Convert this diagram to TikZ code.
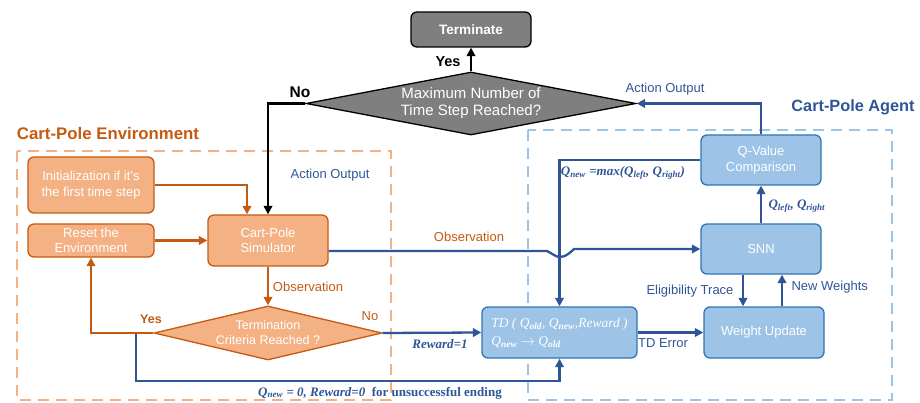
\documentclass[tikz,border=0pt]{standalone}
\usepackage{fontspec}
\setmainfont{Liberation Sans}
\newfontfamily\lserif{Liberation Serif}
\usetikzlibrary{shapes.geometric,arrows.meta,calc}
\definecolor{orgline}{HTML}{C55A11}
\definecolor{orgfill}{HTML}{F4B183}
\definecolor{dblue}{HTML}{2F5597}
\definecolor{bfill}{HTML}{9DC3E6}
\definecolor{bline}{HTML}{2E75B6}
\definecolor{gfill}{HTML}{7F7F7F}
\newcommand\fsz[2]{\fontsize{#1}{#2}\selectfont}
\begin{document}
\begin{tikzpicture}[x=1pt,y=-1pt,
  obox/.style={draw=orgline, fill=orgfill, line width=1.3pt, rounded corners=6pt, text=white, align=center, inner sep=0pt, font=\fsz{13}{15.5}},
  bbox/.style={draw=bline, fill=bfill, line width=1.3pt, rounded corners=6pt, text=white, align=center, inner sep=0pt, font=\fsz{13}{15.5}},
  tip/.style={-{Triangle[length=8.5pt,width=8.5pt]}},
  oarr/.style={draw=orgline, line width=2.3pt, tip},
  barr/.style={draw=dblue, line width=2.3pt, tip},
  karr/.style={draw=black, line width=2.6pt, tip},
  blbl/.style={text=dblue, font=\fsz{13}{15}},
  olbl/.style={text=orgline, font=\fsz{13}{15}},
  mlbl/.style={text=dblue, font=\lserif\bfseries\itshape\fsz{13}{15}},
  envframe/.style={draw=orgfill, line width=1.5pt, dash pattern=on 11pt off 7pt},
  agtframe/.style={draw=bfill, line width=1.5pt, dash pattern=on 11pt off 7pt},
]
\useasboundingbox (0,0) rectangle (920,403);

% frames
\draw[envframe] (17,151) rectangle (391,400);
\draw[agtframe] (528,130) rectangle (892,400);
\node[text=orgline, font=\bfseries\fsz{16.8}{18}] (envt) at (108,133) {Cart-Pole Environment};
\node[text=dblue, font=\bfseries\fsz{16.3}{18}] (agtt) at (853,107) {Cart-Pole Agent};

% top nodes
\node[draw=black, fill=gfill, line width=1.3pt, rounded corners=6pt, text=white, font=\bfseries\fsz{13.6}{15}, minimum width=120pt, minimum height=35pt, inner sep=0pt] (term) at (471,29.5) {Terminate};
\node[draw=black, fill=gfill, line width=1.3pt, diamond, aspect=5.2, minimum width=330pt, minimum height=63pt, inner sep=0pt, align=center, text=white, font=\fsz{15}{17}] (maxd) at (471,103.5) {Maximum Number of\\Time Step Reached?};

% environment nodes
\node[obox, minimum width=126pt, minimum height=56pt] (init) at (91,185) {Initialization if it's\\the first time step};
\node[obox, minimum width=126pt, minimum height=33pt] (reset) at (91,240.5) {Reset the\\Environment};
\node[obox, minimum width=120pt, minimum height=51pt] (sim) at (268,240.5) {Cart-Pole\\Simulator};
\node[draw=orgline, fill=orgfill, line width=1.3pt, diamond, aspect=4.22, minimum width=228pt, minimum height=54pt, inner sep=0pt, align=center, text=white, font=\fsz{12.5}{15}] (crit) at (268,333) {Termination\\Criteria Reached ?};

% agent nodes
\node[bbox, minimum width=155pt, minimum height=51pt, align=left, font=\lserif\itshape\fsz{13.5}{18}] (td) at (559.5,332.5) {TD ( Q\textsubscript{\bfseries old}, Q\textsubscript{\bfseries new},Reward )\\Q\textsubscript{\bfseries new} {\upshape$\rightarrow$} Q\textsubscript{\bfseries old}};
\node[bbox, minimum width=120pt, minimum height=51pt] (wu) at (764,332.5) {Weight Update};
\node[bbox, minimum width=120pt, minimum height=50pt] (snn) at (761,249) {SNN};
\node[bbox, minimum width=120pt, minimum height=50pt] (qv) at (761,160) {Q-Value\\Comparison};

% black connectors
\draw[karr] (maxd.north) -- (term.south);
\node[font=\bfseries\fsz{14.5}{16}] (yes1) at (448,62) {Yes};
\draw[karr] (maxd.west) -| (sim.north);
\node[font=\bfseries\fsz{15.5}{17}] (no1) at (300,92) {No};

% agent -> max
\draw[barr] (qv.north) |- (maxd.east);
\node[blbl] (ao2) at (665,89) {Action Output};
\node[blbl] (ao1) at (330,175) {Action Output};

% environment connectors
\draw[oarr] (init.east) -| ([xshift=-21pt]sim.north);
\draw[oarr] (reset.east) -- (sim.west);
\draw[oarr] (sim.south) -- (crit.north);
\node[olbl] (obs1) at (308,287) {Observation};

% unsuccessful ending path
\coordinate (ybr) at (136,333);
\coordinate (lowc) at (136,381);
\draw[barr] (ybr) -- (lowc) -| (td.south);
\node[text=dblue, font=\lserif\bfseries\fsz{13}{15}] (unsc) at (380,393) {\itshape Q\textsubscript{new} = 0, Reward=0\upshape\ \ for unsuccessful ending};

\draw[oarr] (crit.west) -| (reset.south);
\node[text=orgline, font=\bfseries\fsz{12.5}{14}] (yes2) at (151,319) {Yes};
\node[text=orgline, font=\fsz{13}{14}] (no2) at (370,316) {No};

\draw[barr] (crit.east) -- (td.west);
\node[mlbl] (rw1) at (440,344) {Reward=1};

% observation with hop
\coordinate (h1) at (547,251);
\coordinate (h2) at (574,249);
\draw[barr] ([yshift=-10.5pt]sim.east) -- (h1) -- (554,255) .. controls (560,259) and (566,257) .. (h2) -- (snn.west);
\node[olbl] (obs2) at (469,237) {Observation};

% Q new path
\draw[barr] (qv.west) -| (td.north);
\node[mlbl] (qmax) at (623,173) {Q\textsubscript{new} =max(Q\textsubscript{left}, Q\textsubscript{right})};

% agent internals
\draw[barr] (td.east) -- (wu.west);
\node[text=dblue, font=\fsz{13}{15}] (tde) at (663,343) {TD Error};
\draw[barr] (snn.north) -- (qv.south);
\node[mlbl, anchor=west] (qlr) at (765,206) {Q\textsubscript{left}, Q\textsubscript{right}};
\draw[barr] ([xshift=-18pt]snn.south) -- ([xshift=-18pt]snn.south |- wu.north);
\node[blbl, anchor=east] (elig) at (737,291) {Eligibility Trace};
\draw[barr] ([xshift=18pt]wu.north) -- ([xshift=18pt]wu.north |- snn.south);
\node[blbl, anchor=west] (nw) at (788,287) {New Weights};
\end{tikzpicture}
\end{document}
